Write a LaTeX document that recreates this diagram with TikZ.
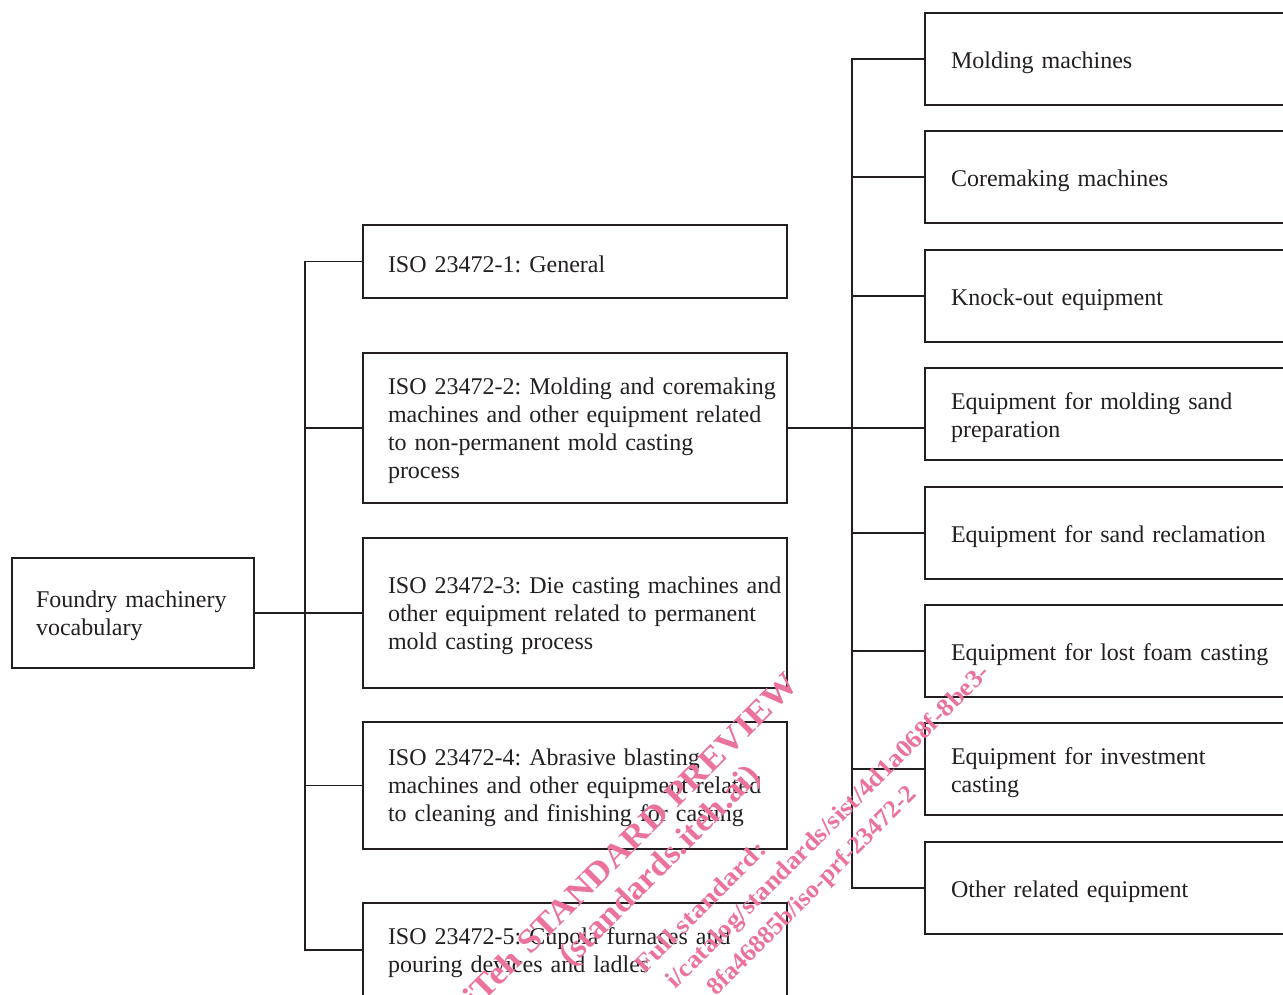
\documentclass[tikz,border=0pt]{standalone}
\usepackage{fontspec}
\setmainfont{Liberation Serif}
\frenchspacing
\definecolor{ink}{RGB}{35,31,32}
\definecolor{wmpink}{RGB}{235,115,155}
\tikzset{
  box/.style={draw=ink, line width=2.9pt, text=ink, align=left, inner xsep=25pt, inner ysep=0pt,
    font=\fontsize{24}{28}\selectfont, execute at begin node={\rule{0pt}{21.5pt}}},
  rootbox/.style={box, minimum width=242pt, minimum height=110pt, text width=194pt, inner xsep=24pt},
  midbox/.style={box, minimum width=424pt, text width=374pt},
  rbox/.style={box, minimum width=380pt, minimum height=92pt, text width=328pt, inner xsep=26pt,
    execute at begin node={\rule{0pt}{23.5pt}}},
  conn/.style={draw=ink, line width=1.3pt},
  wmbig/.style={text=wmpink, font=\fontsize{33}{38}\selectfont\bfseries, inner sep=0pt, rotate=45, anchor=base east},
  wmsmall/.style={text=wmpink, font=\fontsize{25}{30}\selectfont\bfseries, inner sep=0pt, rotate=45, anchor=base east}
}
\begin{document}
\begin{tikzpicture}[x=1pt,y=1pt]
\useasboundingbox (0,0) rectangle (1283,994);
\clip (0,0) rectangle (1283,994);
\fill[white] (0,0) rectangle (1283,994);
% root
\node[rootbox] (root) at (133,381) {\mbox{Foundry machinery}\\\mbox{vocabulary}};
% middle column
\node[midbox, minimum height=73pt] (m1) at (575,732.5) {\mbox{ISO 23472-1: General}};
\node[midbox, minimum height=150pt] (m2) at (575,566) {\mbox{ISO 23472-2: Molding and coremaking}\\\mbox{machines and other equipment related}\\\mbox{to non-permanent mold casting}\\\mbox{process}};
\node[midbox, minimum height=150pt] (m3) at (575,381) {\mbox{ISO 23472-3: Die casting machines and}\\\mbox{other equipment related to permanent}\\\mbox{mold casting process}};
\node[midbox, minimum height=127pt] (m4) at (575,208.5) {\mbox{ISO 23472-4: Abrasive blasting}\\\mbox{machines and other equipment related}\\\mbox{to cleaning and finishing for casting}};
\node[midbox, minimum height=94pt] (m5) at (575,44) {\mbox{ISO 23472-5: Cupola furnaces and}\\\mbox{pouring devices and ladles}};
% right column
\node[rbox] (r1) at (1115,935) {\mbox{Molding machines}};
\node[rbox] (r2) at (1115,817) {\mbox{Coremaking machines}};
\node[rbox] (r3) at (1115,698) {\mbox{Knock-out equipment}};
\node[rbox] (r4) at (1115,580) {\mbox{Equipment for molding sand}\\\mbox{preparation}};
\node[rbox] (r5) at (1115,461) {\mbox{Equipment for sand reclamation}};
\node[rbox] (r6) at (1115,343) {\mbox{Equipment for lost foam casting}};
\node[rbox] (r7) at (1115,225) {\mbox{Equipment for investment}\\\mbox{casting}};
\node[rbox] (r8) at (1115,106) {\mbox{Other related equipment}};
% trunks
\coordinate (tl) at (305,0);
\coordinate (tr) at (852,0);
\draw[conn] (root.east) -- (m3.west);
\draw[conn] (m1.west) -- (m1.west -| tl) -- (m5.west -| tl) -- (m5.west);
\foreach \n in {m2,m4} \draw[conn] (\n.west) -- (\n.west -| tl);
\draw[conn] (m2.east) -- (m2.east -| r4.west);
\draw[conn] (r1.west) -- (r1.west -| tr) -- (r8.west -| tr) -- (r8.west);
\foreach \n in {r2,r3,r5,r6,r7} \draw[conn] (\n.west) -- (\n.west -| tr);
% watermark
\node[wmbig] (w1) at (800,308) {\scalebox{1.1}[1]{iTeh STANDARD PREVIEW}};
\node[wmbig] (w2) at (762,217) {\scalebox{1.05}[1]{(standards.iteh.ai)}};
\node[wmsmall] (w3) at (768,143) {\scalebox{1.14}[1]{Full standard:}};
\node[wmsmall] (w4) at (991,320) {\scalebox{1.075}[1]{i/catalog/standards/sist/4d1a068f-8be3-}};
\node[wmsmall] (w5) at (918,199) {\scalebox{1.02}[1]{8fa46885b/iso-prf-23472-2}};
\end{tikzpicture}
\end{document}
